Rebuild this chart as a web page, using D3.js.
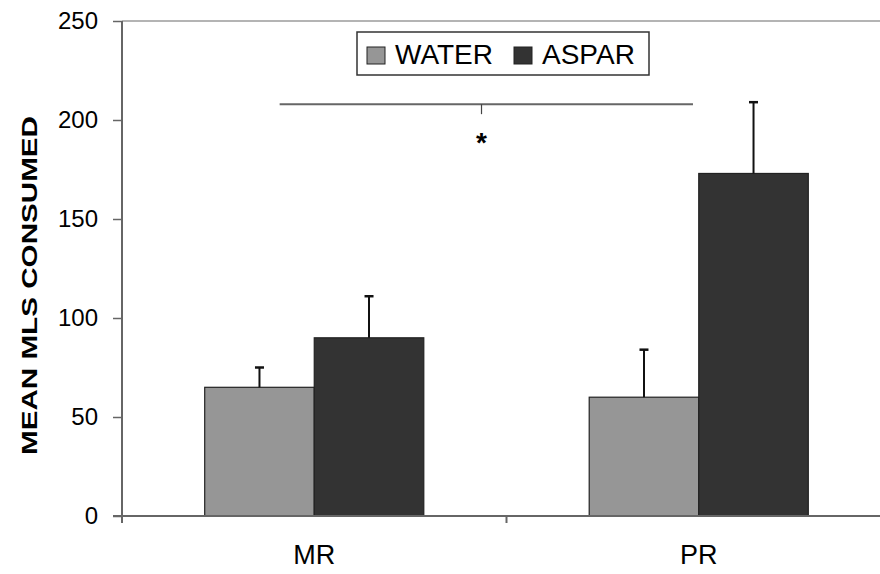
<!DOCTYPE html>
<html>
<head>
<meta charset="utf-8">
<script src="https://cdn.jsdelivr.net/npm/d3@7"></script>
<style>
  body { margin: 0; background: #fff; }
  svg { display: block; font-family: "Liberation Sans", Arial, sans-serif; }
</style>
</head>
<body>
<div id="chart"></div>
<script>
// data
var groups = ["MR", "PR"];
var seriesNames = ["WATER", "ASPAR"];
var seriesColors = ["#969696", "#333333"];
var waterMeans = [65, 60];
var waterErr = [10, 24];
var asparMeans = [90, 173];
var asparErr = [21, 36];
var yTicks = [0, 50, 100, 150, 200, 250];
// significance bar: spans category positions (0 = left edge of MR, 2 = right edge of PR)
var sigFrom = 0.41, sigTo = 1.485, sigMid = 0.935, sigValue = 208;

var width = 880, height = 574;
var margin = { left: 122, top: 21 };
var plotBottom = 516;
var plotRight = 891; // last category runs past the window edge

var svg = d3.select("#chart").append("svg")
  .attr("width", width)
  .attr("height", height);

var y = d3.scaleLinear()
  .domain([0, 250])
  .range([plotBottom, margin.top]);

var x0 = d3.scaleBand()
  .domain(groups)
  .range([margin.left, plotRight]);

var x1 = d3.scaleBand()
  .domain(seriesNames)
  .range([0, x0.bandwidth()])
  .paddingOuter(0.755)
  .paddingInner(0);

var xLin = d3.scaleLinear().domain([0, 2]).range([margin.left, plotRight]);

// top border line
svg.append("line")
  .attr("x1", margin.left).attr("x2", width)
  .attr("y1", y(250)).attr("y2", y(250))
  .attr("stroke", "#b4b4b4")
  .attr("stroke-width", 2);

// bars
var flat = [];
groups.forEach(function (g, i) {
  flat.push({ g: g, s: seriesNames[0], v: waterMeans[i], e: waterErr[i], c: seriesColors[0] });
  flat.push({ g: g, s: seriesNames[1], v: asparMeans[i], e: asparErr[i], c: seriesColors[1] });
});
var cx = d => x0(d.g) + x1(d.s) + x1.bandwidth() / 2;

svg.selectAll(".bar")
  .data(flat)
  .enter().append("rect")
  .attr("class", "bar")
  .attr("x", d => x0(d.g) + x1(d.s))
  .attr("y", d => y(d.v))
  .attr("width", x1.bandwidth())
  .attr("height", d => y(0) - y(d.v))
  .attr("fill", d => d.c)
  .attr("stroke", "#222")
  .attr("stroke-width", 1.2);

// error bars (upper only)
var eb = svg.selectAll(".err")
  .data(flat)
  .enter().append("g")
  .attr("class", "err")
  .attr("stroke", "#111")
  .attr("stroke-width", 2);
eb.append("line")
  .attr("x1", cx).attr("x2", cx)
  .attr("y1", d => y(d.v))
  .attr("y2", d => y(d.v + d.e));
eb.append("line")
  .attr("x1", d => cx(d) - 4.5)
  .attr("x2", d => cx(d) + 4.5)
  .attr("y1", d => y(d.v + d.e))
  .attr("y2", d => y(d.v + d.e))
  .attr("stroke-width", 2.5);

// y axis
var yAxis = svg.append("g")
  .attr("transform", `translate(${margin.left},0)`)
  .call(d3.axisLeft(y).tickValues(yTicks).tickSize(9).tickPadding(15).tickFormat(d3.format("d")));
yAxis.select(".domain").attr("stroke", "#666").attr("stroke-width", 2)
  .attr("d", `M0,${y(250)}V${y(0) + 7}`);
yAxis.selectAll(".tick line").attr("stroke", "#666").attr("stroke-width", 1.5);
yAxis.selectAll(".tick text")
  .attr("fill", "#000")
  .style("font-size", "24px");

// x axis
var xAxis = svg.append("g")
  .attr("transform", `translate(0,${y(0)})`);
xAxis.append("line")
  .attr("x1", margin.left - 9).attr("x2", width)
  .attr("y1", 0).attr("y2", 0)
  .attr("stroke", "#666").attr("stroke-width", 2);
xAxis.selectAll(".xtick")
  .data([1])
  .enter().append("line")
  .attr("x1", d => xLin(d)).attr("x2", d => xLin(d))
  .attr("y1", 0).attr("y2", 7)
  .attr("stroke", "#666").attr("stroke-width", 2);
xAxis.selectAll(".xlab")
  .data(groups)
  .enter().append("text")
  .attr("x", d => x0(d) + x0.bandwidth() / 2)
  .attr("y", 48)
  .attr("text-anchor", "middle")
  .style("font-size", "27px")
  .text(d => d);

// y title
svg.append("text")
  .attr("transform", `translate(37,${(116 + 455) / 2}) rotate(-90)`)
  .attr("text-anchor", "middle")
  .attr("textLength", 339)
  .attr("lengthAdjust", "spacingAndGlyphs")
  .style("font-size", "22px")
  .style("font-weight", "bold")
  .text("MEAN MLS CONSUMED");

// significance bracket
svg.append("line")
  .attr("x1", xLin(sigFrom)).attr("x2", xLin(sigTo))
  .attr("y1", y(sigValue)).attr("y2", y(sigValue))
  .attr("stroke", "#666").attr("stroke-width", 2);
svg.append("line")
  .attr("x1", xLin(sigMid)).attr("x2", xLin(sigMid))
  .attr("y1", y(sigValue)).attr("y2", y(sigValue) + 10)
  .attr("stroke", "#444").attr("stroke-width", 1.2);
svg.append("text")
  .attr("x", xLin(sigMid))
  .attr("y", y(sigValue) + 48)
  .attr("text-anchor", "middle")
  .style("font-size", "28px")
  .style("font-weight", "bold")
  .text("*");

// legend
var legend = svg.append("g").attr("transform", "translate(357,32)");
legend.append("rect")
  .attr("width", 292).attr("height", 43)
  .attr("fill", "#fff")
  .attr("stroke", "#333").attr("stroke-width", 1.5);
var lx = [10, 157];
var li = legend.selectAll(".li")
  .data(seriesNames)
  .enter().append("g")
  .attr("transform", (d, i) => `translate(${lx[i]},0)`);
li.append("rect")
  .attr("y", 15).attr("width", 18).attr("height", 17)
  .attr("fill", (d, i) => seriesColors[i])
  .attr("stroke", "#222").attr("stroke-width", 1);
li.append("text")
  .attr("x", 28).attr("y", 32)
  .style("font-size", "28px")
  .text(d => d);
</script>
</body>
</html>
